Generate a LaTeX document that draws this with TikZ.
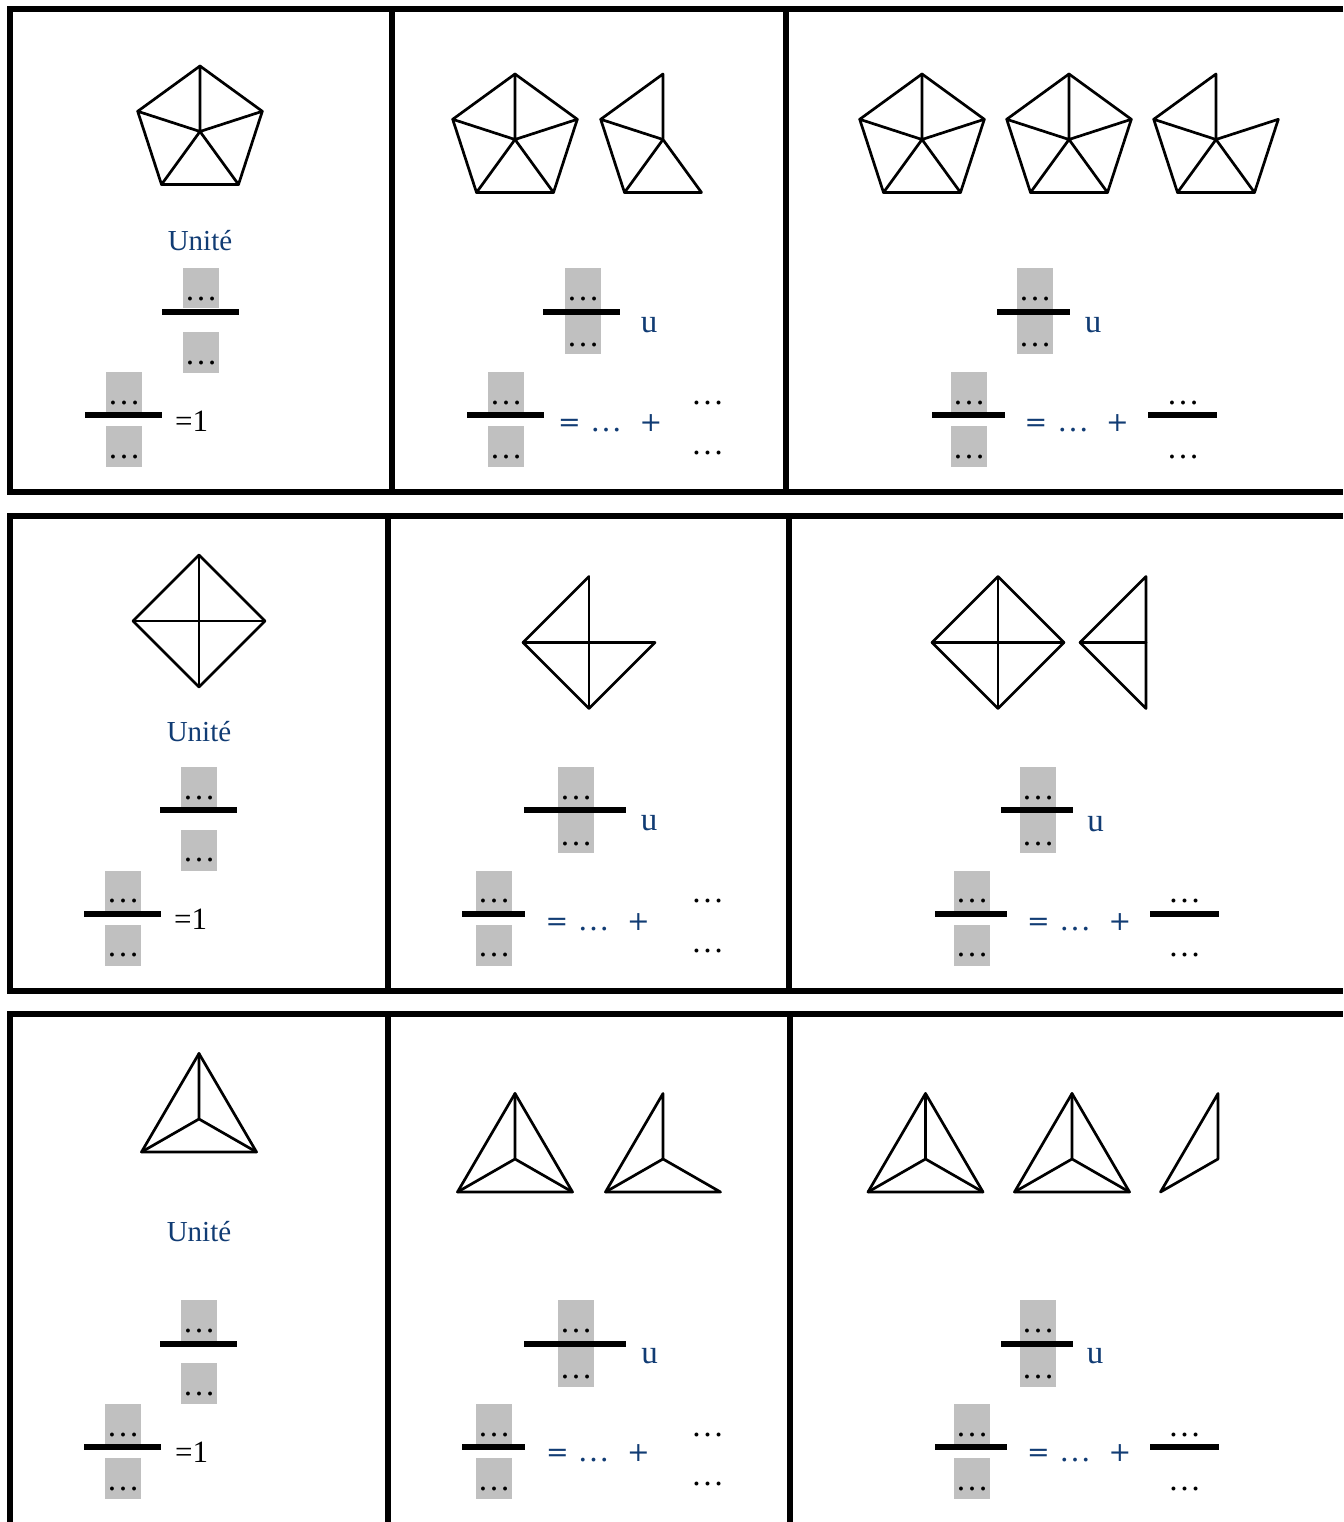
\documentclass[tikz,border=0pt]{standalone}
\usepackage{fontspec}
\setmainfont{Liberation Serif}
\newfontfamily\symfont{DejaVu Serif}
\definecolor{ublue}{HTML}{113C74}
\definecolor{boxgray}{HTML}{C0C0C0}
\tikzset{
  frame/.style={line width=6pt, line join=miter},
  fig/.style={line width=2.7pt, line join=round, line cap=round},
  dotsty/.style={font=\fontsize{33}{36}\selectfont, anchor=base, inner sep=0pt},
  bluet/.style={text=ublue, font=\fontsize{32}{35}\selectfont, anchor=base, inner sep=0pt},
  bluesym/.style={text=ublue, font=\symfont\fontsize{27}{30}\selectfont, anchor=base, inner sep=0pt},
  blueu/.style={text=ublue, font=\fontsize{33}{36}\selectfont, anchor=base, inner sep=0pt},
  unitet/.style={text=ublue, font=\fontsize{29}{32}\selectfont, anchor=base, inner sep=0pt},
  blackt/.style={font=\fontsize{31}{34}\selectfont, anchor=base west, inner sep=0pt},
}
% grey box and fraction bar
\newcommand{\gbox}[4]{\fill[boxgray] (#1,#2) rectangle (#3,#4);}
\newcommand{\fbar}[4]{\fill[black] (#1,#2) rectangle (#3,#4);}
\newcommand{\dt}[3]{\node[dotsty] (#1) at (#2,#3) {…};}
% pentagon points
\newcommand{\pentpts}[3]{%
  \coordinate (#1T) at ({#2},{#3-65.5});
  \coordinate (#1UR) at ({#2+62.3},{#3-20.2});
  \coordinate (#1LR) at ({#2+38.5},{#3+53});
  \coordinate (#1LL) at ({#2-38.5},{#3+53});
  \coordinate (#1UL) at ({#2-62.3},{#3-20.2});
  \coordinate (#1C) at ({#2},{#3});}
\newcommand{\fullpent}[3]{\pentpts{#1}{#2}{#3}
  \draw[fig] (#1T)--(#1UR)--(#1LR)--(#1LL)--(#1UL)--cycle;
  \draw[fig] (#1C)--(#1T) (#1C)--(#1UR) (#1C)--(#1LR) (#1C)--(#1LL) (#1C)--(#1UL);}
% diamond points
\newcommand{\diapts}[3]{%
  \coordinate (#1T) at ({#2},{#3-66});
  \coordinate (#1R) at ({#2+66},{#3});
  \coordinate (#1B) at ({#2},{#3+66});
  \coordinate (#1L) at ({#2-66},{#3});
  \coordinate (#1C) at ({#2},{#3});}
\newcommand{\fulldia}[3]{\diapts{#1}{#2}{#3}
  \draw[fig] (#1T)--(#1R)--(#1B)--(#1L)--cycle;
  \draw[fig] (#1T)--(#1B) (#1L)--(#1R);}
% triangle points (x centre, base y)
\newcommand{\tripts}[3]{%
  \coordinate (#1T) at ({#2},{#3-98.5});
  \coordinate (#1BL) at ({#2-57.5},{#3});
  \coordinate (#1BR) at ({#2+57.5},{#3});
  \coordinate (#1C) at ({#2},{#3-33});}
\newcommand{\fulltri}[3]{\tripts{#1}{#2}{#3}
  \draw[fig] (#1T)--(#1BL)--(#1BR)--cycle;
  \draw[fig] (#1C)--(#1T) (#1C)--(#1BL) (#1C)--(#1BR);}
\begin{document}
\begin{tikzpicture}[x=1pt,y=-1pt]
\useasboundingbox (0,0) rectangle (1343,1522);
\fill[white] (0,0) rectangle (1343,1522);

% ---------------- frames ----------------
\draw[frame] (1343,9) -- (10,9) -- (10,492) -- (1343,492);
\draw[frame] (392,9) -- (392,492);
\draw[frame] (786,9) -- (786,492);
\draw[frame] (1343,516) -- (10,516) -- (10,991) -- (1343,991);
\draw[frame] (388,516) -- (388,991);
\draw[frame] (789,516) -- (789,991);
\draw[frame] (10,1522) -- (10,1014) -- (1343,1014);
\draw[frame] (388,1014) -- (388,1522);
\draw[frame] (790,1014) -- (790,1522);

% ================= ROW 1 =================
% col 1
\fullpent{pa}{200}{131.5}
\node[unitet] (u1) at (200,251) {Unité};
\gbox{183}{268}{219}{308} \dt{a1}{201}{300}
\fbar{162}{309}{239}{315}
\gbox{183}{332}{219}{373} \dt{a2}{201}{364}
\gbox{106}{372}{142}{412} \dt{a3}{124}{404}
\fbar{85}{412}{162}{418}
\gbox{106}{426}{142}{467} \dt{a4}{124}{458}
\node[blackt] (eqa) at (175,431) {=1};
% col 2
\fullpent{pb}{515}{139.5}
\pentpts{pc}{663}{139.5}
\draw[fig] (pcT)--(pcUL)--(pcLL)--(pcLR)--(pcC)--cycle;
\draw[fig] (pcC)--(pcUL) (pcC)--(pcLL);
\gbox{565}{268}{601}{354} \dt{b1}{583}{300} \dt{b2}{583}{346}
\fbar{543}{309}{620}{315}
\node[blueu] (ub) at (649,332) {u};
\gbox{488}{372}{524}{412} \dt{b3}{506}{404}
\fbar{467}{412}{544}{418}
\gbox{488}{426}{524}{467} \dt{b4}{506}{458}
\node[bluesym] (b5) at (569.5,431) {=};
\node[bluet] (b6) at (606,431) {…};
\node[bluesym] (b7) at (651,431) {+};
\dt{b8}{707.5}{404} \dt{b9}{707.5}{454}
% col 3
\fullpent{pd}{922}{139.5}
\fullpent{pe}{1069}{139.5}
\pentpts{pf}{1216}{139.5}
\draw[fig] (pfT)--(pfUL)--(pfLL)--(pfLR)--(pfUR)--(pfC)--cycle;
\draw[fig] (pfC)--(pfUL) (pfC)--(pfLL) (pfC)--(pfLR);
\gbox{1017}{268}{1053}{354} \dt{c1}{1035}{300} \dt{c2}{1035}{346}
\fbar{997}{309}{1070}{315}
\node[blueu] (uc) at (1093,332) {u};
\gbox{951}{372}{987}{412} \dt{c3}{969}{404}
\fbar{932}{412}{1005}{418}
\gbox{951}{426}{987}{467} \dt{c4}{969}{458}
\node[bluesym] (c5) at (1036,431) {=};
\node[bluet] (c6) at (1073,431) {…};
\node[bluesym] (c7) at (1117.5,431) {+};
\dt{c8}{1183}{404}
\fbar{1148}{412}{1217}{418}
\dt{c9}{1183}{458}

% ================= ROW 2 =================
% col 1
\fulldia{da}{199}{621}
\node[unitet] (u2) at (199,741) {Unité};
\gbox{181}{767}{217}{807} \dt{d1}{199}{799}
\fbar{160}{807}{237}{813}
\gbox{181}{830}{217}{871} \dt{d2}{199}{861}
\gbox{105}{871}{141}{912} \dt{d3}{123}{902}
\fbar{84}{911}{161}{917}
\gbox{105}{925}{141}{966} \dt{d4}{123}{956}
\node[blackt] (eqd) at (174,929) {=1};
% col 2
\diapts{db}{589}{642.5}
\draw[fig] (dbT)--(dbL)--(dbB)--(dbR)--(dbC);
\draw[fig] (dbL)--(dbC) (dbT)--(dbB);
\gbox{558}{767}{594}{853} \dt{e1}{576}{799} \dt{e2}{576}{845}
\fbar{524}{807}{626}{813}
\node[blueu] (ue) at (649,830) {u};
\gbox{476}{871}{512}{911} \dt{e3}{494}{902}
\fbar{462}{911}{525}{917}
\gbox{476}{925}{512}{966} \dt{e4}{494}{956}
\node[bluesym] (e5) at (557,930) {=};
\node[bluet] (e6) at (593.5,930) {…};
\node[bluesym] (e7) at (638.5,930) {+};
\dt{e8}{707.5}{902} \dt{e9}{707.5}{952}
% col 3
\fulldia{dc}{998}{642.5}
\diapts{dd}{1146}{642.5}
\draw[fig] (ddT)--(ddL)--(ddB)--cycle;
\draw[fig] (ddL)--(ddC);
\gbox{1020}{767}{1056}{853} \dt{f1}{1038}{799} \dt{f2}{1038}{845}
\fbar{1001}{807}{1073}{813}
\node[blueu] (uf) at (1095.5,831) {u};
\gbox{954}{871}{990}{911} \dt{f3}{972}{902}
\fbar{935}{911}{1007}{917}
\gbox{954}{925}{990}{966} \dt{f4}{972}{956}
\node[bluesym] (f5) at (1038.5,930) {=};
\node[bluet] (f6) at (1075,930) {…};
\node[bluesym] (f7) at (1120,930) {+};
\dt{f8}{1184.5}{902}
\fbar{1150}{911}{1219}{917}
\dt{f9}{1184.5}{956}

% ================= ROW 3 =================
% col 1
\fulltri{ta}{199}{1152}
\node[unitet] (u3) at (199,1241) {Unité};
\gbox{181}{1300}{217}{1341} \dt{g1}{199}{1332}
\fbar{160}{1341}{237}{1347}
\gbox{181}{1363}{217}{1404} \dt{g2}{199}{1395}
\gbox{105}{1404}{141}{1444} \dt{g3}{123}{1436}
\fbar{84}{1444}{161}{1450}
\gbox{105}{1458}{141}{1499} \dt{g4}{123}{1490}
\node[blackt] (eqg) at (175,1462) {=1};
% col 2
\fulltri{tb}{515}{1192}
\tripts{tc}{663}{1192}
\draw[fig] (tcT)--(tcBL)--(tcBR)--(tcC)--cycle;
\draw[fig] (tcC)--(tcBL);
\gbox{558}{1300}{594}{1387} \dt{h1}{576}{1332} \dt{h2}{576}{1378}
\fbar{524}{1341}{626}{1347}
\node[blueu] (uh) at (649.5,1363) {u};
\gbox{476}{1404}{512}{1444} \dt{h3}{494}{1436}
\fbar{462}{1444}{525}{1450}
\gbox{476}{1458}{512}{1499} \dt{h4}{494}{1490}
\node[bluesym] (h5) at (557.5,1461) {=};
\node[bluet] (h6) at (593.5,1461) {…};
\node[bluesym] (h7) at (638.5,1461) {+};
\dt{h8}{707.5}{1436} \dt{h9}{707.5}{1485}
% col 3
\fulltri{td}{925.5}{1192}
\fulltri{te}{1072}{1192}
\tripts{tf}{1218}{1192}
\draw[fig] (tfT)--(tfBL)--(tfC)--cycle;
\gbox{1020}{1300}{1056}{1387} \dt{i1}{1038}{1332} \dt{i2}{1038}{1378}
\fbar{1001}{1341}{1073}{1347}
\node[blueu] (ui) at (1095,1363) {u};
\gbox{954}{1404}{990}{1444} \dt{i3}{972}{1436}
\fbar{935}{1444}{1007}{1450}
\gbox{954}{1458}{990}{1499} \dt{i4}{972}{1490}
\node[bluesym] (i5) at (1038.5,1461) {=};
\node[bluet] (i6) at (1075,1461) {…};
\node[bluesym] (i7) at (1120,1461) {+};
\dt{i8}{1184.5}{1436}
\fbar{1150}{1444}{1219}{1450}
\dt{i9}{1184.5}{1490}
\end{tikzpicture}
\end{document}
